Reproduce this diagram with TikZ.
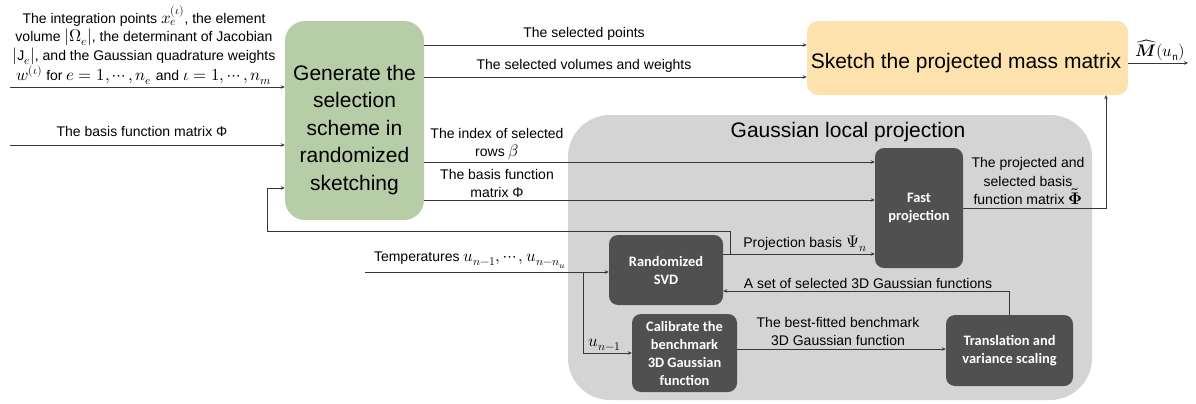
\documentclass[tikz,border=0pt]{standalone}
\usepackage{amsmath}
\usepackage{fontspec}
\usepackage{unicode-math}
\setmainfont{Liberation Sans}
\setmathfont{Latin Modern Math}[Scale=1.2]
\newfontfamily\boxfont{Carlito}
\usetikzlibrary{arrows.meta,calc}
\definecolor{greenbox}{RGB}{183,205,168}
\definecolor{orangebox}{RGB}{253,226,174}
\definecolor{grayregion}{RGB}{212,212,212}
\definecolor{darkbox}{RGB}{80,80,80}
\definecolor{linecol}{RGB}{55,55,55}
\tikzset{
  arr/.style={draw=linecol,line width=0.8pt,-{Stealth[length=4pt,width=3.5pt]}},
  lbl/.style={inner sep=0pt,align=center,font=\fontsize{14}{18.5}\selectfont},
  big/.style={inner sep=0pt,align=center,font=\fontsize{21}{27.5}\selectfont},
  dark/.style={fill=darkbox,rounded corners=9pt,draw=none,text=white,align=center,
    inner sep=0pt,font=\boxfont\bfseries\fontsize{14.4}{18}\selectfont},
}
\begin{document}
\begin{tikzpicture}[x=1pt,y=-1pt]
\useasboundingbox (0,0) rectangle (1196,404);
% region
\node[fill=grayregion,rounded corners=42pt,minimum width=524pt,minimum height=285pt,inner sep=0pt] (glp) at (830,257.5) {};
\node[big] (glptitle) at (848,132) {Gaussian local projection};
% main boxes
\node[fill=greenbox,rounded corners=20pt,minimum width=139pt,minimum height=199pt,inner sep=0pt] (gen) at (354.5,120.5) {};
\node[big] (gentext) at (354.5,130) {Generate the\\selection\\scheme in\\randomized\\sketching};
\node[fill=orangebox,rounded corners=11pt,minimum width=321pt,minimum height=74pt,inner sep=0pt] (sketch) at (967.5,58) {};
\node[big] (sketchtext) at (966,63) {Sketch the projected mass matrix};
% dark boxes
\node[dark,minimum width=88pt,minimum height=120pt] (fast) at (919,208) {Fast\\projection};
\node[dark,minimum width=114pt,minimum height=70pt] (svd) at (666,270) {Randomized\\SVD};
\node[dark,minimum width=105pt,minimum height=78pt] (calib) at (684.5,353) {Calibrate the\\benchmark\\3D Gaussian\\function};
\node[dark,minimum width=127pt,minimum height=71pt] (trans) at (1009.5,350.5) {Translation and\\variance scaling};
% free ends
\coordinate (in1) at (10,87);
\coordinate (in2) at (10,145);
\coordinate (out) at (1188,63);
\coordinate (tin) at (365,272);
\coordinate (branch) at (583,272);
\coordinate (fb) at (730,254);
\coordinate (fbleft) at (267,231);
\coordinate (up) at (1106,208);
% inputs
\node[lbl,anchor=south] (in1lbl) at (144,85) {The integration points $x_e^{(\iota)}$, the element\\volume $|\Omega_e|$, the determinant of Jacobian\\$|\mathrm{J}_e|$, and the Gaussian quadrature weights\\$w^{(\iota)}$ for $e=1,\cdots,n_e$ and $\iota=1,\cdots,n_m$};
\draw[arr] (in1) -- (in1 -| gen.west);
\node[lbl] (in2lbl) at (142,131) {The basis function matrix Φ};
\draw[arr] (in2) -- (in2 -| gen.west);
% gen to sketch
\draw[arr] (gen.east |- 0,45) -- (sketch.west |- 0,45);
\node[lbl] (l1) at (584,34) {The selected points};
\draw[arr] (gen.east |- 0,77) -- (sketch.west |- 0,77);
\node[lbl] (l2) at (584,66) {The selected volumes and weights};
% gen to fast
\draw[arr] (gen.east |- 0,162) -- (fast.west |- 0,162);
\node[lbl,anchor=south] (l3) at (497,160) {The index of selected\\rows $\beta$};
\draw[arr] (gen.east |- 0,200) -- (fast.west |- 0,200);
\node[lbl,anchor=south] (l4) at (497,198) {The basis function\\matrix Φ};
% fast to sketch
\draw[arr] (fast.east) -- (up) -- (up |- sketch.south);
\node[lbl,anchor=south] (l5) at (1028,205) {The projected and\\selected basis\\function matrix $\tilde{\symbfup{\Phi}}$};
% output
\draw[arr] (sketch.east |- out) -- (out);
\node[lbl,anchor=south] (l6) at (1160,61) {$\widehat{\symbfit{M}}(u_{\mathrm{n}})$};
% svd to fast
\draw[arr] (svd.east |- fb) -- (fast.west |- fb);
\node[lbl,anchor=south] (l7) at (805,252) {Projection basis $\Psi_n$};
% feedback to gen
\draw[arr] (fb) -- (fb |- fbleft) -- (fbleft) -- (fbleft |- 0,188) -- (gen.west |- 0,188);
% temperatures
\draw[arr] (tin) -- (tin -| svd.west);
\node[lbl,anchor=south] (l8) at (470,269) {Temperatures $u_{n-1},\cdots,u_{n-n_u}$};
\draw[arr] (branch) |- (calib.west);
\node[lbl,anchor=south] (l9) at (605,351) {$u_{n-1}$};
% calib to trans
\draw[arr] (calib.east |- 0,349) -- (trans.west |- 0,349);
\node[lbl,anchor=south] (l10) at (838,346) {The best-fitted benchmark\\3D Gaussian function};
% trans to svd
\draw[arr] (trans.north) -- (trans.north |- 0,291) -- (svd.east |- 0,291);
\node[lbl,anchor=south] (l11) at (868,289) {A set of selected 3D Gaussian functions};
\end{tikzpicture}
\end{document}
